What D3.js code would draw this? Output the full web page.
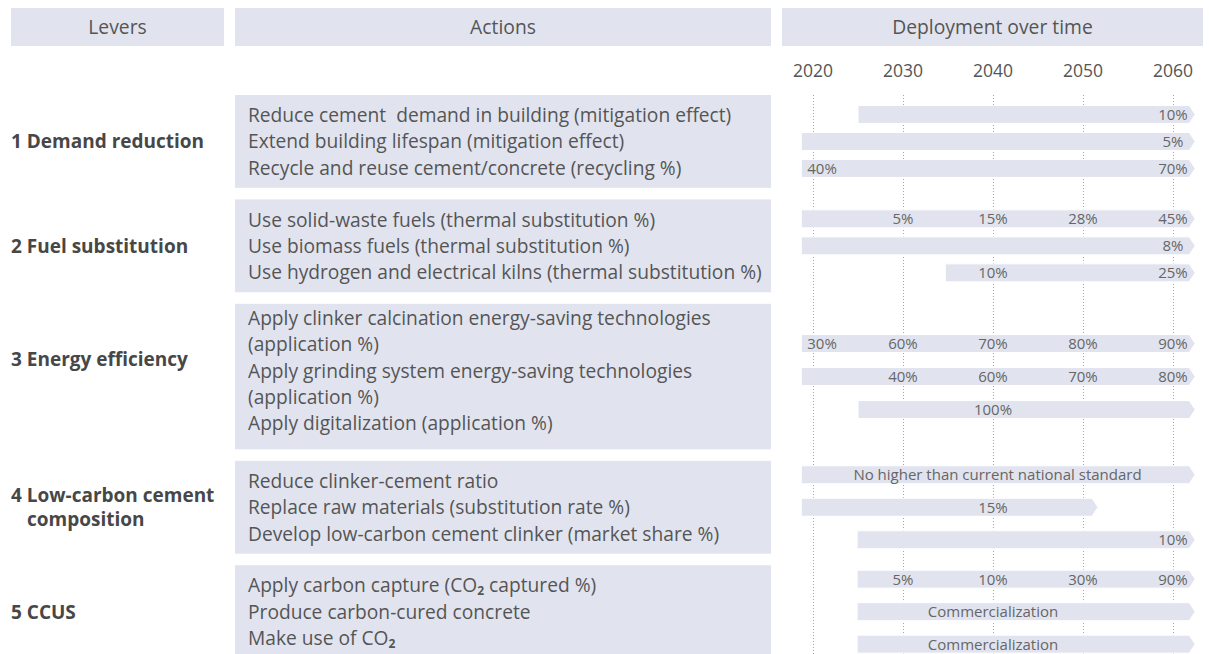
<!DOCTYPE html>
<html>
<head>
<meta charset="utf-8">
<script src="https://cdn.jsdelivr.net/npm/d3@7"></script>
<style>
  body { margin: 0; background: #fff; }
  svg { display: block; font-family: "Open Sans", "Noto Sans", sans-serif; }
  text { white-space: pre; }
</style>
</head>
<body>
<div id="chart"></div>
<script>
// ---- data ----
const headers = ["Levers", "Actions", "Deployment over time"];
const years = [2020, 2030, 2040, 2050, 2060];

const levers = [
    ["1 Demand reduction"],
    ["2 Fuel substitution"],
    ["3 Energy efficiency"],
    ["4 Low-carbon cement", "composition"],
    ["5 CCUS"]
];

const actionLines = [
    ["Reduce cement  demand in building (mitigation effect)",
     "Extend building lifespan (mitigation effect)",
     "Recycle and reuse cement/concrete (recycling %)"],
    ["Use solid-waste fuels (thermal substitution %)",
     "Use biomass fuels (thermal substitution %)",
     "Use hydrogen and electrical kilns (thermal substitution %)"],
    ["Apply clinker calcination energy-saving technologies",
     "(application %)",
     "Apply grinding system energy-saving technologies",
     "(application %)",
     "Apply digitalization (application %)"],
    ["Reduce clinker-cement ratio",
     "Replace raw materials (substitution rate %)",
     "Develop low-carbon cement clinker (market share %)"],
    ["Apply carbon capture (CO\u2082 captured %)",
     "Produce carbon-cured concrete",
     "Make use of CO\u2082"]
];

// deployment bars: lever index, start year, end year, labels at years
const barLever = [0, 0, 0, 1, 1, 1, 2, 2, 2, 3, 3, 3, 4, 4, 4];
const barStart = [2025, 2018.7, 2018.7, 2018.7, 2018.7, 2034.7, 2018.7, 2018.7, 2025, 2018.7, 2018.7, 2024.9, 2024.9, 2024.9, 2024.9];
const barEnd   = [2061.8, 2061.8, 2061.8, 2061.8, 2061.8, 2061.8, 2061.8, 2061.8, 2061.8, 2061.8, 2051, 2061.8, 2061.8, 2061.8, 2061.8];
const barLabels = [
    [[2060, "10%"]],
    [[2060, "5%"]],
    [[2020, "40%"], [2060, "70%"]],
    [[2030, "5%"], [2040, "15%"], [2050, "28%"], [2060, "45%"]],
    [[2060, "8%"]],
    [[2040, "10%"], [2060, "25%"]],
    [[2020, "30%"], [2030, "60%"], [2040, "70%"], [2050, "80%"], [2060, "90%"]],
    [[2030, "40%"], [2040, "60%"], [2050, "70%"], [2060, "80%"]],
    [[2040, "100%"]],
    [[2040.5, "No higher than current national standard"]],
    [[2040, "15%"]],
    [[2060, "10%"]],
    [[2030, "5%"], [2040, "10%"], [2050, "30%"], [2060, "90%"]],
    [[2040, "Commercialization"]],
    [[2040, "Commercialization"]]
];

// ---- layout ----
const width = 1209, height = 654;
const fill = "#e1e4ef", textCol = "#555", boldCol = "#474747";
const colLever = [11, 224], colAction = [235, 771], colDeploy = [782, 1203];
const lineH = 26.3, boxPad = 14, boxGap = 11.5, boxTop0 = 95;
const rowGap = [27, 27, 33, 32.5, 32.5];
const textShift = [0, 0, -6, 0, 0];     // action text nudges
const leverShift = [0, 0, -18, 0, 0];   // lever label nudges
const barH = 18, tip = 6;

const svg = d3.select("#chart").append("svg")
    .attr("width", width)
    .attr("height", height);

const x = d3.scaleLinear().domain([2020, 2060]).range([813, 1173]);

// boxes stacked by number of action lines
let boxes = [];
let boxY = boxTop0;
actionLines.forEach((lines, i) => {
    let h = lines.length * lineH + boxPad;
    boxes.push({top: boxY, h: h, mid: boxY + h / 2});
    boxY += h + boxGap;
});

// header
const headerCols = [colLever, colAction, colDeploy];
headerCols.forEach((c, i) => {
    svg.append("rect").attr("x", c[0]).attr("y", 8)
        .attr("width", c[1] - c[0]).attr("height", 38)
        .attr("fill", fill);
    svg.append("text").attr("x", (c[0] + c[1]) / 2).attr("y", 33.5)
        .attr("text-anchor", "middle")
        .attr("font-size", 19.3).attr("fill", textCol)
        .text(headers[i]);
});

// year ticks
svg.append("g").selectAll("text").data(years).join("text")
    .attr("x", d => x(d)).attr("y", 77)
    .attr("text-anchor", "middle")
    .attr("font-size", 17.5).attr("fill", textCol)
    .text(d => d);

// dotted grid
svg.append("g").selectAll("line").data(years).join("line")
    .attr("x1", d => x(d) + 0.5).attr("x2", d => x(d) + 0.5)
    .attr("y1", 95).attr("y2", height)
    .attr("stroke", "#a5a5a5").attr("stroke-width", 1)
    .attr("stroke-dasharray", "1,2");

// action boxes + text
boxes.forEach((b, i) => {
    svg.append("rect").attr("x", colAction[0]).attr("y", b.top)
        .attr("width", colAction[1] - colAction[0]).attr("height", b.h)
        .attr("fill", fill);
    let n = actionLines[i].length;
    actionLines[i].forEach((line, j) => {
        let t = svg.append("text")
            .attr("x", 248)
            .attr("y", b.mid + textShift[i] + (j - (n - 1) / 2) * lineH + 7)
            .attr("font-size", 19.2).attr("fill", textCol);
        let parts = line.split("\u2082");
        parts.forEach((p, k) => {
            t.append("tspan").attr("dy", k > 0 ? -3 : null).text(p);
            if (k < parts.length - 1) {
                t.append("tspan").attr("font-size", 12).attr("font-weight", "bold")
                    .attr("dy", 3).text("2");
            }
        });
    });

    // lever label
    let lv = levers[i];
    lv.forEach((line, j) => {
        svg.append("text")
            .attr("x", j === 0 ? 11 : 27)
            .attr("y", b.mid + leverShift[i] + (j - (lv.length - 1) / 2) * 24 + 7)
            .attr("font-size", 19).attr("font-weight", "bold")
            .attr("fill", boldCol)
            .text(line);
    });
});

// bars
const barRows = barLever.map((lv, i) => {
    let sameLever = barLever.map((l, k) => k).filter(k => barLever[k] === lv);
    let j = sameLever.indexOf(i);
    let cy = boxes[lv].mid + (j - (sameLever.length - 1) / 2) * rowGap[lv];
    return {i: i, cy: cy, start: barStart[i], end: barEnd[i], labels: barLabels[i]};
});

const arrow = d => {
    let x0 = x(d.start), x1 = x(d.end), y0 = d.cy - barH / 2, y1 = d.cy + barH / 2;
    return `M${x0},${y0}L${x1},${y0}L${x1 + tip},${d.cy}L${x1},${y1}L${x0},${y1}Z`;
};

const barG = svg.append("g");
barG.selectAll("path").data(barRows).join("path")
    .attr("d", arrow)
    .attr("fill", fill)
    .attr("stroke", "#fff").attr("stroke-width", 1);

barRows.forEach(d => {
    d.labels.forEach(l => {
        let t = barG.append("text")
            .attr("y", d.cy + 5.5)
            .attr("text-anchor", "middle")
            .attr("font-size", 15).attr("fill", "#666")
            .text(l[1]);
        let w = t.node().getComputedTextLength();
        let cx = x(l[0]);
        cx = Math.max(cx, x(d.start) + 6 + w / 2);
        cx = Math.min(cx, x(d.end) + 2 - w / 2);
        t.attr("x", cx);
    });
});
</script>
</body>
</html>
